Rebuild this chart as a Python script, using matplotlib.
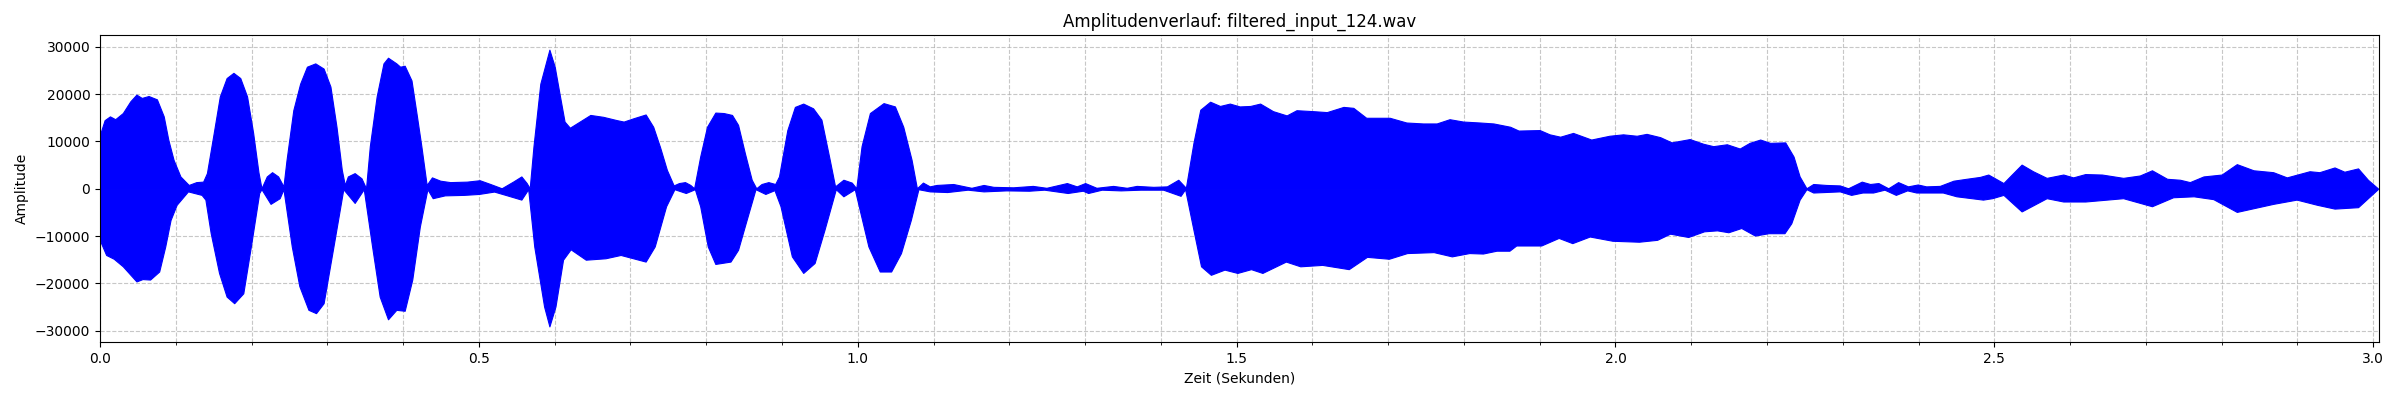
import matplotlib
matplotlib.use("Agg")
import matplotlib.pyplot as plt
from matplotlib.ticker import MultipleLocator

title = "Amplitudenverlauf: filtered_input_124.wav"
x_label = "Zeit (Sekunden)"
y_label = "Amplitude"
duration = 3.0075

# upper envelope of the waveform (time in s, amplitude)
t_upper = [0.000, 0.006, 0.013, 0.020, 0.030, 0.040, 0.048, 0.055, 0.064, 0.075,
           0.084, 0.090, 0.097, 0.106, 0.117, 0.127, 0.136, 0.141, 0.150, 0.158,
           0.167, 0.176, 0.185, 0.194, 0.202, 0.209, 0.213, 0.220, 0.227, 0.235,
           0.242, 0.246, 0.255, 0.264, 0.273, 0.284, 0.295, 0.304, 0.312, 0.319,
           0.323, 0.327, 0.336, 0.345, 0.351, 0.356, 0.365, 0.374, 0.380, 0.391,
           0.396, 0.402, 0.411, 0.418, 0.424, 0.431, 0.438, 0.449, 0.462, 0.484,
           0.501, 0.515, 0.530, 0.545, 0.556, 0.563, 0.567, 0.572, 0.581, 0.593,
           0.600, 0.607, 0.613, 0.620, 0.633, 0.647, 0.664, 0.682, 0.691, 0.704,
           0.720, 0.730, 0.739, 0.748, 0.757, 0.764, 0.772, 0.779, 0.784, 0.792,
           0.801, 0.812, 0.823, 0.834, 0.842, 0.851, 0.860, 0.866, 0.873, 0.882,
           0.891, 0.896, 0.907, 0.917, 0.928, 0.941, 0.952, 0.963, 0.970, 0.981,
           0.992, 0.998, 1.005, 1.016, 1.034, 1.049, 1.060, 1.071, 1.078, 1.086,
           1.095, 1.104, 1.126, 1.144, 1.150, 1.166, 1.179, 1.205, 1.231, 1.249,
           1.276, 1.289, 1.300, 1.315, 1.337, 1.355, 1.368, 1.390, 1.408, 1.423,
           1.433, 1.443, 1.452, 1.465, 1.478, 1.491, 1.504, 1.518, 1.531, 1.548,
           1.566, 1.579, 1.601, 1.619, 1.641, 1.654, 1.671, 1.702, 1.724, 1.746,
           1.764, 1.781, 1.799, 1.821, 1.839, 1.861, 1.872, 1.900, 1.913, 1.927,
           1.944, 1.968, 1.992, 2.010, 2.028, 2.041, 2.059, 2.074, 2.098, 2.116,
           2.129, 2.147, 2.164, 2.177, 2.191, 2.204, 2.224, 2.235, 2.243, 2.252,
           2.261, 2.278, 2.296, 2.307, 2.325, 2.336, 2.347, 2.360, 2.373, 2.386,
           2.399, 2.410, 2.428, 2.446, 2.463, 2.481, 2.492, 2.512, 2.523, 2.536,
           2.551, 2.569, 2.591, 2.604, 2.620, 2.642, 2.670, 2.692, 2.708, 2.728,
           2.745, 2.758, 2.776, 2.800, 2.820, 2.842, 2.868, 2.886, 2.916, 2.929,
           2.949, 2.962, 2.980, 2.993, 3.006]
a_upper = [11500, 14500, 15300, 14700, 16000, 18500, 19900, 19200, 19600, 18900,
           15300, 10400, 6100, 2600, 800, 1400, 1500, 3300, 11800, 19500,
           23400, 24500, 23400, 19500, 11800, 3500, 100, 2600, 3500, 2600,
           500, 6000, 16600, 22200, 25800, 26500, 25400, 21600, 13100, 4000,
           800, 2600, 3300, 2200, 100, 9000, 19500, 26500, 27700, 26500,
           25800, 26000, 22900, 15500, 9000, 800, 2400, 1700, 1400, 1500,
           1800, 1000, 100, 1500, 2600, 1200, 100, 9000, 22200, 29400,
           25800, 19500, 14200, 12900, 14200, 15600, 15200, 14500, 14200, 14900,
           15700, 13100, 8800, 4000, 700, 1200, 1400, 800, 100, 6800,
           13100, 16100, 16000, 15600, 13500, 7500, 1900, 100, 1000, 1400,
           1000, 2600, 12400, 17300, 18000, 17000, 14600, 6100, 500, 1900,
           1300, 100, 9000, 16000, 18100, 17400, 13100, 6100, 100, 1300,
           500, 800, 1000, 400, 200, 800, 400, 300, 600, 200,
           1200, 500, 1200, 200, 600, 200, 600, 400, 500, 1900,
           200, 9700, 16700, 18400, 17500, 18000, 17400, 17500, 18000, 16400,
           15500, 16600, 16400, 16200, 17300, 17100, 15000, 15000, 14000, 13800,
           13800, 14700, 14200, 14000, 13800, 13100, 12300, 12400, 11500, 11000,
           11800, 10400, 11200, 11500, 11200, 11600, 10900, 9800, 10500, 9500,
           9000, 9400, 8500, 9700, 10400, 9700, 9800, 6800, 2600, 100,
           1000, 800, 700, 100, 1500, 1000, 1200, 100, 1400, 500,
           900, 500, 600, 1700, 2100, 2500, 3000, 1200, 3000, 5100,
           3700, 2300, 3000, 2400, 3100, 3000, 2300, 2800, 3900, 2100,
           1900, 1400, 2600, 3000, 5200, 3900, 3500, 2400, 3700, 3500,
           4500, 3600, 4300, 1900, 100]

# lower envelope of the waveform (time in s, amplitude)
t_lower = [0.000, 0.008, 0.018, 0.030, 0.048, 0.056, 0.066, 0.078, 0.086, 0.093,
           0.101, 0.116, 0.134, 0.139, 0.146, 0.157, 0.167, 0.177, 0.189, 0.199,
           0.210, 0.213, 0.225, 0.237, 0.242, 0.253, 0.263, 0.275, 0.285, 0.295,
           0.308, 0.321, 0.336, 0.348, 0.359, 0.369, 0.380, 0.391, 0.402, 0.412,
           0.422, 0.432, 0.439, 0.455, 0.480, 0.500, 0.520, 0.535, 0.556, 0.565,
           0.573, 0.586, 0.593, 0.601, 0.611, 0.621, 0.641, 0.667, 0.687, 0.720,
           0.732, 0.747, 0.758, 0.773, 0.785, 0.792, 0.802, 0.812, 0.832, 0.842,
           0.852, 0.865, 0.878, 0.890, 0.898, 0.913, 0.928, 0.943, 0.956, 0.971,
           0.981, 0.996, 1.014, 1.029, 1.044, 1.057, 1.070, 1.080, 1.095, 1.118,
           1.145, 1.166, 1.196, 1.226, 1.246, 1.277, 1.297, 1.304, 1.322, 1.347,
           1.373, 1.403, 1.426, 1.432, 1.443, 1.453, 1.466, 1.484, 1.501, 1.519,
           1.534, 1.565, 1.584, 1.613, 1.648, 1.672, 1.701, 1.725, 1.760, 1.784,
           1.807, 1.825, 1.843, 1.860, 1.869, 1.902, 1.925, 1.943, 1.966, 1.996,
           2.031, 2.055, 2.072, 2.096, 2.117, 2.134, 2.149, 2.166, 2.184, 2.202,
           2.223, 2.232, 2.243, 2.252, 2.261, 2.296, 2.311, 2.326, 2.340, 2.355,
           2.370, 2.385, 2.397, 2.432, 2.450, 2.485, 2.497, 2.512, 2.536, 2.569,
           2.591, 2.620, 2.670, 2.708, 2.736, 2.763, 2.789, 2.820, 2.868, 2.899,
           2.926, 2.949, 2.980, 3.006]
a_lower = [-11000, -14000, -14800, -16400, -19600, -19100, -19200, -17500, -12200, -6600,
           -3400, -560, -1300, -2300, -9400, -17800, -22800, -24200, -22100, -12200,
           -900, -100, -3200, -2000, -100, -12200, -20600, -25600, -26300, -24200,
           -12200, -100, -3000, -100, -12200, -22800, -27600, -25600, -25800, -19200,
           -8000, -100, -2000, -1400, -1300, -1100, -600, -1300, -2300, -100,
           -12200, -24900, -29100, -24900, -15000, -12800, -15000, -14700, -14000, -15400,
           -12200, -3700, -100, -900, -100, -3700, -12200, -15900, -15400, -12900,
           -7300, -100, -1100, -300, -3700, -14300, -17800, -15700, -8700, -100,
           -1600, -100, -12200, -17500, -17500, -13600, -6600, -100, -560, -700,
           -200, -560, -350, -420, -200, -900, -420, -900, -200, -350,
           -200, -200, -1500, -100, -8700, -16400, -18200, -17100, -17800, -17000,
           -17800, -15400, -16400, -16100, -17000, -14400, -14800, -13600, -13400, -14300,
           -13600, -13700, -13100, -13100, -12000, -12000, -10400, -11500, -10100, -11000,
           -11200, -10800, -9500, -10200, -9000, -8800, -9200, -8300, -9900, -9400,
           -9400, -7300, -2300, -100, -800, -560, -1300, -800, -800, -200,
           -1300, -350, -800, -800, -1600, -2300, -2000, -1300, -4800, -2000,
           -2700, -2700, -2000, -3700, -1800, -1600, -2200, -4900, -3200, -2300,
           -3400, -4200, -3900, -100]

fig, ax = plt.subplots(figsize=(24, 4), dpi=100)
fig.subplots_adjust(left=0.0417, right=0.9912, top=0.9125, bottom=0.145)

ax.fill_between(t_upper, 0, a_upper, color="blue", edgecolor="blue", linewidth=0.8)
ax.fill_between(t_lower, a_lower, 0, color="blue", edgecolor="blue", linewidth=0.8)

ax.set_xlim(0, duration)
ax.set_ylim(-32400, 32500)
ax.xaxis.set_major_locator(MultipleLocator(0.5))
ax.xaxis.set_minor_locator(MultipleLocator(0.1))
ax.yaxis.set_major_locator(MultipleLocator(10000))
ax.grid(True, which="both", linestyle="--", alpha=0.7)
ax.set_axisbelow(True)

ax.set_title(title)
ax.set_xlabel(x_label)
ax.set_ylabel(y_label)

fig.savefig("out.png", dpi=100)
